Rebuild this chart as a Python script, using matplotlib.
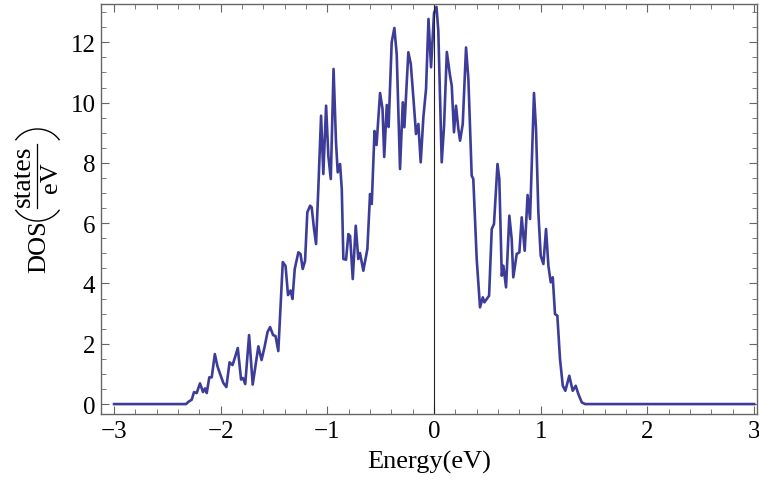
import numpy as np
import matplotlib
matplotlib.use("Agg")
import matplotlib.pyplot as plt
from matplotlib.ticker import MultipleLocator
from matplotlib.patches import Arc
from matplotlib.lines import Line2D
from matplotlib.transforms import IdentityTransform

plt.rcParams['font.family'] = ['Liberation Serif', 'DejaVu Serif']

# energy (eV) and density of states (states/eV)
energy = [-3.000, -2.325, -2.303, -2.272, -2.250, -2.225, -2.194, -2.166, -2.147, -2.131,
          -2.107, -2.084, -2.055, -2.031, -2.011, -1.975, -1.947, -1.917, -1.889, -1.866,
          -1.840, -1.809, -1.791, -1.770, -1.734, -1.700, -1.669, -1.647, -1.617, -1.589,
          -1.561, -1.537, -1.509, -1.486, -1.460, -1.418, -1.392, -1.369, -1.345, -1.327,
          -1.306, -1.272, -1.252, -1.231, -1.209, -1.188, -1.162, -1.147, -1.125, -1.106,
          -1.085, -1.059, -1.038, -1.012, -0.991, -0.968, -0.942, -0.919, -0.903, -0.881,
          -0.865, -0.850, -0.825, -0.803, -0.787, -0.762, -0.734, -0.710, -0.694, -0.663,
          -0.625, -0.600, -0.584, -0.558, -0.539, -0.506, -0.483, -0.467, -0.443, -0.426,
          -0.397, -0.372, -0.350, -0.319, -0.293, -0.278, -0.241, -0.218, -0.194, -0.169,
          -0.147, -0.125, -0.100, -0.075, -0.052, -0.028, 0.000, 0.023, 0.040, 0.072,
          0.094, 0.120, 0.150, 0.166, 0.187, 0.206, 0.228, 0.244, 0.269, 0.300,
          0.322, 0.353, 0.368, 0.400, 0.431, 0.457, 0.472, 0.494, 0.516, 0.541,
          0.562, 0.595, 0.612, 0.635, 0.650, 0.675, 0.706, 0.728, 0.743, 0.775,
          0.800, 0.822, 0.850, 0.877, 0.900, 0.937, 0.956, 0.978, 1.000, 1.025,
          1.050, 1.072, 1.094, 1.113, 1.134, 1.156, 1.181, 1.207, 1.231, 1.268,
          1.300, 1.328, 1.353, 1.385, 1.416, 3.000]
dos = [0.000, 0.000, 0.076, 0.143, 0.398, 0.365, 0.687, 0.398, 0.521, 0.365,
       0.886, 0.886, 1.659, 1.261, 1.052, 0.697, 0.564, 1.384, 1.294, 1.549,
       1.858, 0.813, 0.863, 0.664, 2.289, 0.647, 1.384, 1.914, 1.460, 1.891,
       2.389, 2.555, 2.289, 2.256, 1.758, 4.711, 4.579, 3.616, 3.766, 3.484,
       4.479, 5.033, 4.977, 4.479, 4.754, 6.360, 6.579, 6.526, 5.806, 5.309,
       7.133, 9.565, 7.631, 9.897, 8.238, 7.465, 11.115, 8.683, 7.687, 7.963,
       7.133, 4.811, 4.788, 5.640, 5.574, 4.147, 5.916, 4.811, 5.010, 4.423,
       5.143, 6.967, 6.636, 9.058, 8.593, 10.319, 9.788, 8.195, 9.920, 9.190,
       12.001, 12.475, 11.612, 7.797, 10.010, 9.181, 11.669, 11.281, 10.176, 8.958,
       9.290, 8.019, 9.512, 10.451, 12.774, 11.171, 12.973, 13.172, 12.386, 8.019,
       9.234, 11.679, 10.893, 10.561, 9.015, 9.897, 9.124, 8.736, 9.290, 11.828,
       10.783, 7.575, 7.465, 4.811, 3.208, 3.540, 3.374, 3.484, 3.593, 5.806,
       5.972, 7.963, 7.465, 4.257, 4.589, 3.872, 6.248, 5.474, 4.204, 4.977,
       5.033, 6.194, 5.086, 6.934, 6.138, 10.319, 9.124, 6.360, 4.920, 4.645,
       5.806, 4.589, 4.038, 4.204, 2.986, 2.930, 1.493, 0.607, 0.441, 0.939,
       0.441, 0.607, 0.332, 0.056, 0.000, 0.000]

xticks = [-3, -2, -1, 0, 1, 2, 3]
yticks = [0, 2, 4, 6, 8, 10, 12]

W, H = 759, 485
fig = plt.figure(figsize=(W / 100, H / 100), dpi=100)
ax = fig.add_axes([0.1331, 0.1443, 0.8643, 0.8454])

ax.plot(energy, dos, color='#3d3d99', lw=1.9, solid_joinstyle='round')
ax.axvline(0, color='#222222', lw=0.8)

ax.set_xlim(-3.122, 3.028)
ax.set_ylim(-0.33, 13.27)

ax.set_xticks(xticks)
ax.set_xticklabels([str(t).replace('-', '\u2212') for t in xticks])
ax.set_yticks(yticks)
ax.xaxis.set_minor_locator(MultipleLocator(0.2))
ax.yaxis.set_minor_locator(MultipleLocator(0.5))

ax.tick_params(which='both', direction='in', top=True, right=True,
               color='#666666', labelsize=18)
ax.tick_params(which='major', length=6, width=0.8)
ax.tick_params(which='minor', length=3.5, width=0.6)
ax.tick_params(axis='x', pad=4)
ax.tick_params(axis='y', pad=4)

for s in ax.spines.values():
    s.set_color('#666666')
    s.set_linewidth(1.0)

ax.set_xlabel('Energy(eV)', fontsize=19, labelpad=6)

# y label: DOS(states/eV) built by hand (rotated), positions in pixels
def fx(px):
    return px / W

def fy(py):
    return 1 - py / H

fig.text(fx(45), fy(220), 'DOS', rotation=90, rotation_mode='anchor',
         ha='right', va='baseline', fontsize=19)
fig.text(fx(30), fy(176.5), 'states', rotation=90, rotation_mode='anchor',
         ha='center', va='baseline', fontsize=20)
fig.text(fx(57), fy(177.5), 'eV', rotation=90, rotation_mode='anchor',
         ha='center', va='baseline', fontsize=19)
fig.add_artist(Line2D([fx(36.7), fx(36.7)], [fy(145), fy(209)],
                      transform=fig.transFigure, color='black', lw=0.9))
# the two stretched parentheses
fig.add_artist(Arc((37.5, H - 198), 52, 48, theta1=210, theta2=330,
                   transform=IdentityTransform(), color='black', lw=1.0))
fig.add_artist(Arc((37.5, H - 154), 52, 48, theta1=30, theta2=150,
                   transform=IdentityTransform(), color='black', lw=1.0))

fig.savefig('out.png', dpi=100)
